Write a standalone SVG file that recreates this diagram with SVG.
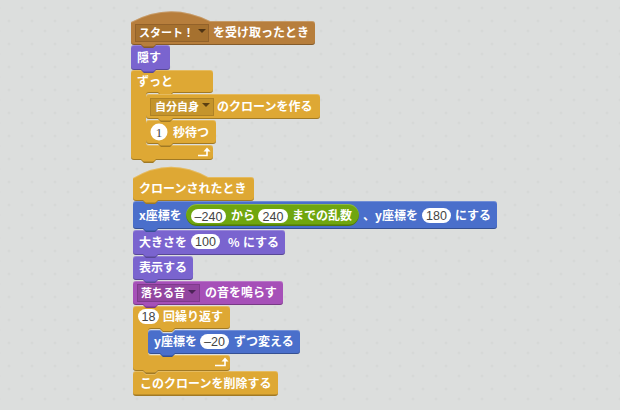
<svg xmlns="http://www.w3.org/2000/svg" width="620" height="410" viewBox="0 0 620 410">
<style>
text{font-family:"Noto Sans CJK JP","Liberation Sans",sans-serif;font-size:12px;font-weight:700;fill:#fff}
.n{font-family:"Liberation Sans",sans-serif;font-weight:400;fill:#444;text-anchor:middle;font-size:12.500px}
.s{font-size:11px}
.pill{fill:#fff}
.ctl{fill:#dea834}.evt{fill:#b77e3c}.look{fill:#7a64cf}.mot{fill:#4a6fcb}.snd{fill:#a650b8}.op{fill:#6fa60f}
.b{filter:url(#bev)}
.tip{fill:none;stroke:#fff;stroke-width:1.600}
</style>
<defs>
<pattern id="grid" width="23" height="23" patternUnits="userSpaceOnUse">
<path d="M22 6.500v3M20.500 8h3M-1 6.500v3M-2.500 8h3M9 19.500v3M7.500 21h3" stroke="#d4d6d5" stroke-width="1" fill="none"/>
</pattern>
<filter id="bev" x="-2%" y="-5%" width="104%" height="110%" color-interpolation-filters="sRGB">
<feOffset in="SourceAlpha" dy="1" result="down"/>
<feComposite in="SourceAlpha" in2="down" operator="out" result="topEdge"/>
<feFlood flood-color="#fff" flood-opacity="0.220"/>
<feComposite in2="topEdge" operator="in" result="hi"/>
<feOffset in="SourceAlpha" dy="-1.500" result="up"/>
<feComposite in="SourceAlpha" in2="up" operator="out" result="botEdge"/>
<feFlood flood-color="#000" flood-opacity="0.280"/>
<feComposite in2="botEdge" operator="in" result="lo"/>
<feMerge><feMergeNode in="SourceGraphic"/><feMergeNode in="hi"/><feMergeNode in="lo"/></feMerge>
</filter>
</defs>
<rect width="620" height="410" fill="#dcdedd"/>
<rect width="620" height="410" fill="url(#grid)"/>

<g id="script2">
<g id="delete-clone">
<path class="ctl b" d="M136 371H143l3 3h9l3-3H275q3 0 3 3V393q0 3-3 3H136q-3 0-3-3V374q0-3 3-3z"/>
<text x="140" y="388">このクローンを削除する</text>
</g>
<g id="repeat">
<path class="ctl b" d="M136 306H227q3 0 3 3V326q0 3-3 3H175l-3 3h-9l-3-3H151q-3 0-3 3V352q0 3 3 3H227q3 0 3 3V368q0 3-3 3H158l-3 3h-9l-3-3H136q-3 0-3-3V309q0-3 3-3z"/>
<rect class="pill" x="138" y="309" width="21" height="15" rx="7.500"/>
<text class="n" x="148.500" y="321">18</text>
<text x="163" y="321">回繰り返す</text>
<path class="tip" d="M215 365.500H225V361"/>
<path d="M221.500 361.500L225 357.500L228.500 361.500z" fill="#fff"/>
</g>
<g id="change-y">
<path class="mot b" d="M151 330H160l3 3h9l3-3H297q3 0 3 3V351q0 3-3 3H175l-3 3h-9l-3-3H151q-3 0-3-3V333q0-3 3-3z"/>
<text x="154" y="346">y座標を</text>
<rect class="pill" x="200" y="334" width="29" height="15" rx="7.500"/>
<text class="n" x="214.500" y="346">–20</text>
<text x="234" y="346">ずつ変える</text>
</g>
<g id="play-sound">
<path class="snd b" d="M136 281H280q3 0 3 3V302q0 3-3 3H158l-3 3h-9l-3-3H136q-3 0-3-3V284q0-3 3-3z"/>
<rect x="137.500" y="284.500" width="62" height="17" fill="#92459f" stroke="#7f3a8c"/>
<text class="s" x="141" y="297">落ちる音</text>
<path d="M188 290h8l-4 4z" fill="#4d2358"/>
<text x="205" y="297">の音を鳴らす</text>
</g>
<g id="show">
<path class="look b" d="M136 256H190q3 0 3 3V277q0 3-3 3H158l-3 3h-9l-3-3H136q-3 0-3-3V259q0-3 3-3z"/>
<text x="139" y="272">表示する</text>
</g>
<g id="set-size">
<path class="look b" d="M136 230H282q3 0 3 3V252q0 3-3 3H158l-3 3h-9l-3-3H136q-3 0-3-3V233q0-3 3-3z"/>
<text x="139" y="247">大きさを</text>
<rect class="pill" x="191" y="234" width="29" height="15" rx="7.500"/>
<text class="n" x="205.500" y="246">100</text>
<text x="228" y="247">%</text>
<text x="243" y="247">にする</text>
</g>
<g id="go-to-xy">
<path class="mot b" d="M136 201H494q3 0 3 3V226q0 3-3 3H158l-3 3h-9l-3-3H136q-3 0-3-3V204q0-3 3-3z"/>
<text x="139" y="220">x座標を</text>
<rect class="op b" x="186" y="204" width="173" height="22" rx="11"/>
<rect class="pill" x="191" y="209" width="35" height="14" rx="7"/>
<text class="n" x="208.500" y="220.500">–240</text>
<text x="231" y="220">から</text>
<rect class="pill" x="258" y="209" width="30" height="14" rx="7"/>
<text class="n" x="273" y="220.500">240</text>
<text x="292" y="220">までの乱数</text>
<text x="363" y="220">、y座標を</text>
<rect class="pill" x="422" y="208" width="29" height="15" rx="7.500"/>
<text class="n" x="436.500" y="220">180</text>
<text x="455" y="220">にする</text>
</g>
<g id="clone-hat">
<path class="ctl b" d="M133 178Q170 156 208 177H251q3 0 3 3V198q0 3-3 3H158l-3 3h-9l-3-3H136q-3 0-3-3z"/>
<text x="139" y="193">クローンされたとき</text>
</g>
</g>

<g id="script1">
<g id="forever">
<path class="ctl b" d="M134 70H210q3 0 3 3V90q0 3-3 3H173l-3 3h-9l-3-3H149q-3 0-3 3V142q0 3 3 3H210q3 0 3 3V157q0 3-3 3H156l-3 3h-9l-3-3H134q-3 0-3-3V73q0-3 3-3z"/>
<text x="137" y="86">ずっと</text>
<path class="tip" d="M198 155.500H207V151"/>
<path d="M203.500 151.500L207 147.500L210.500 151.500z" fill="#fff"/>
</g>
<g id="wait">
<path class="ctl b" d="M149 120H213q3 0 3 3V141q0 3-3 3H173l-3 3h-9l-3-3H149q-3 0-3-3V123q0-3 3-3z"/>
<circle class="pill" cx="159" cy="132" r="8.500"/>
<text class="n" x="159" y="136.500" style="font-family:'Liberation Serif',serif;font-size:13px">1</text>
<text x="173" y="137">秒待つ</text>
</g>
<g id="create-clone">
<path class="ctl b" d="M149 94H317q3 0 3 3V116q0 3-3 3H173l-3 3h-9l-3-3H149q-3 0-3-3V97q0-3 3-3z"/>
<rect x="150.500" y="98.500" width="63" height="17" fill="#c4942c" stroke="#ae8226"/>
<text class="s" x="155" y="111">自分自身</text>
<path d="M202 103h8l-4 4z" fill="#5a4012"/>
<text x="217" y="111">のクローンを作る</text>
</g>
<g id="hide">
<path class="look b" d="M134 45H167q3 0 3 3V67q0 3-3 3H156l-3 3h-9l-3-3H134q-3 0-3-3V48q0-3 3-3z"/>
<text x="137" y="62">隠す</text>
</g>
<g id="receive-hat">
<path class="evt b" d="M131 22Q170 1 210 21H312q3 0 3 3V42q0 3-3 3H156l-3 3h-9l-3-3H134q-3 0-3-3z"/>
<rect x="135.500" y="24.500" width="73" height="17" fill="#a6712f" stroke="#93622a"/>
<text class="s" x="139" y="37">スタート！</text>
<path d="M198 29h8l-4 4z" fill="#4f3414"/>
<text x="213" y="37">を受け取ったとき</text>
</g>
</g>
</svg>
